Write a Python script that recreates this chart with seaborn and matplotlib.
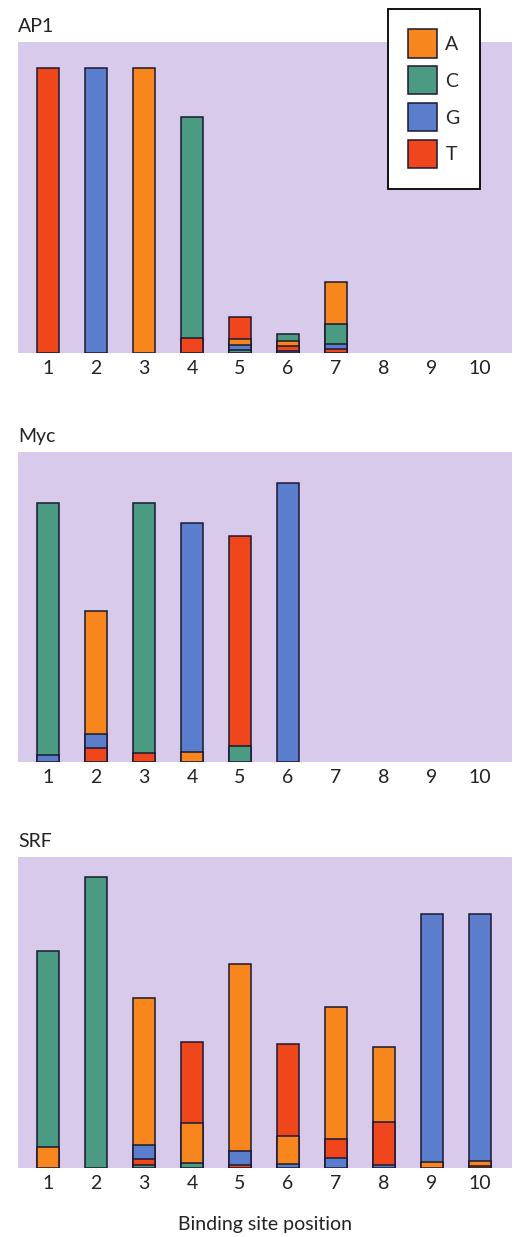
import pandas as pd
import matplotlib
matplotlib.use("Agg")
import matplotlib.pyplot as plt
from matplotlib.patches import Patch
import seaborn as sns

# --- Data: information per base at each binding site position ---
positions = list(range(1, 11))
bases = ['A', 'C', 'G', 'T']

ap1_A = [0, 0, 2.0, 0, 0.04, 0.037, 0.29, 0, 0, 0]
ap1_C = [0, 0, 0, 1.55, 0.02, 0.045, 0.14, 0, 0, 0]
ap1_G = [0, 2.0, 0, 0, 0.035, 0.015, 0.035, 0, 0, 0]
ap1_T = [2.0, 0, 0, 0.105, 0.155, 0.035, 0.03, 0, 0, 0]

myc_A = [0, 0.86, 0, 0.07, 0, 0, 0, 0, 0, 0]
myc_C = [1.77, 0, 1.76, 0, 0.11, 0, 0, 0, 0, 0]
myc_G = [0.05, 0.105, 0, 1.61, 0, 1.96, 0, 0, 0, 0]
myc_T = [0, 0.095, 0.06, 0, 1.48, 0, 0, 0, 0, 0]

srf_A = [0.15, 0, 1.03, 0.28, 1.31, 0.2, 0.93, 0.53, 0.045, 0.035]
srf_C = [1.37, 2.04, 0.02, 0.035, 0, 0, 0, 0, 0, 0]
srf_G = [0, 0, 0.1, 0, 0.1, 0.025, 0.07, 0.02, 1.735, 1.73]
srf_T = [0, 0, 0.04, 0.565, 0.02, 0.645, 0.13, 0.3, 0, 0.015]

panels = [
    ('AP1', [ap1_A, ap1_C, ap1_G, ap1_T]),
    ('Myc', [myc_A, myc_C, myc_G, myc_T]),
    ('SRF', [srf_A, srf_C, srf_G, srf_T]),
]

base_colors = {'A': '#F7861E', 'C': '#4B9B82', 'G': '#5A7DCC', 'T': '#F0461E'}
bg_color = '#D7CAEB'
edge_color = '#1c1830'


# --- Stack segments: smallest at the bottom, cumulative tops per layer ---
def build_layers(values):
    df = pd.DataFrame(dict(zip(bases, values)), index=positions)
    rows = []
    for pos, row in df.iterrows():
        ordered = sorted([(v, b) for b, v in row.items() if v > 0], key=lambda t: t[0])
        cum = 0.0
        for k, (v, b) in enumerate(ordered):
            cum += v
            rows.append({'position': pos, 'base': b, 'layer': k, 'top': cum})
    return pd.DataFrame(rows)


sns.set_style("white")
plt.rcParams['font.family'] = ['Lato', 'DejaVu Sans']

fig = plt.figure(figsize=(5.3, 12.37), dpi=100)
axes_rects = [
    [0.034, 0.7146, 0.932, 0.2514],
    [0.034, 0.3840, 0.932, 0.2506],
    [0.034, 0.0558, 0.932, 0.2514],
]

for (name, values), rect in zip(panels, axes_rects):
    ax = fig.add_axes(rect)
    ax.set_facecolor(bg_color)
    seg = build_layers(values)
    # draw tallest cumulative layer first, lower layers on top
    for k in sorted(seg['layer'].unique(), reverse=True):
        sns.barplot(data=seg[seg['layer'] == k], x='position', y='top', hue='base',
                    order=positions, hue_order=bases, palette=base_colors,
                    dodge=False, width=0.46, saturation=1, errorbar=None,
                    edgecolor=edge_color, linewidth=1.1, legend=False, ax=ax)
    ax.set_xlim(-0.625, 9.667)
    ax.set_ylim(0, 2.18)
    ax.set_yticks([])
    ax.set_ylabel('')
    ax.set_xlabel('')
    ax.set_xticks(range(len(positions)))
    ax.set_xticklabels([str(p) for p in positions])
    ax.tick_params(axis='x', length=0, pad=5, labelsize=14, labelcolor='#222222')
    for s in ax.spines.values():
        s.set_visible(False)
    ax.set_title(name, loc='left', fontsize=14, pad=7, color='#222222')

ax.set_xlabel('Binding site position', fontsize=14, labelpad=17, color='#222222')

handles = [Patch(facecolor=base_colors[b], edgecolor=edge_color, linewidth=1.1, label=b)
           for b in bases]
leg = fig.legend(handles=handles, loc='upper left', bbox_to_anchor=(0.732, 0.9927),
                 fontsize=14, handlelength=1.45, handleheight=1.85, labelspacing=0.45,
                 handletextpad=0.45, borderpad=1.05, borderaxespad=0, fancybox=False,
                 framealpha=1, edgecolor='black')
leg.get_frame().set_linewidth(1.3)

plt.savefig('out.png', dpi=100)
